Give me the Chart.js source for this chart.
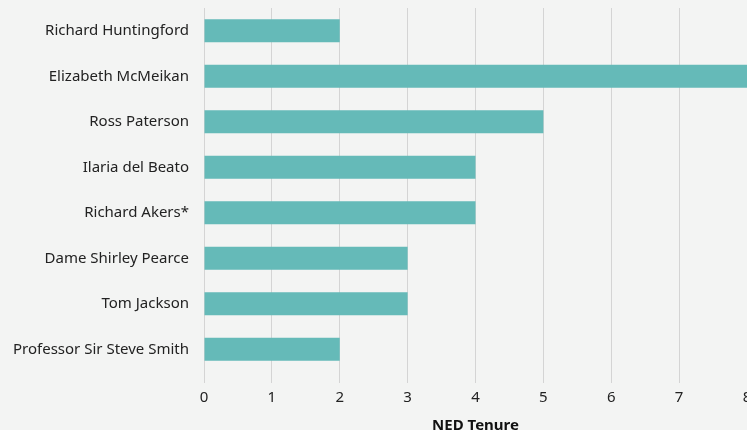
<!DOCTYPE html>
<html>
<head>
<meta charset="utf-8">
<script src="https://cdn.jsdelivr.net/npm/chart.js@4/dist/chart.umd.min.js"></script>
<style>
  html, body { margin: 0; padding: 0; background: #f3f4f3; overflow: hidden; }
  #wrap { width: 770px; height: 435px; }
</style>
</head>
<body>
<div id="wrap"><canvas id="tenureChart"></canvas></div>
<script>
// Directors and their NED tenure in years
const directors = [
  'Richard Huntingford',
  'Elizabeth McMeikan',
  'Ross Paterson',
  'Ilaria del Beato',
  'Richard Akers*',
  'Dame Shirley Pearce',
  'Tom Jackson',
  'Professor Sir Steve Smith'
]
const tenure = [2, 8, 5, 4, 4, 3, 3, 2]
const tenureTicks = [0, 1, 2, 3, 4, 5, 6, 7, 8]

const FONT = "'Noto Sans', sans-serif"

var ctx = document.getElementById('tenureChart').getContext('2d')
var tenureChart = new Chart(ctx, {
  type: 'bar',
  data: {
    labels: directors,
    datasets: [{
      data: tenure,
      backgroundColor: '#65bab8',
      borderWidth: 0,
      categoryPercentage: 1,
      barPercentage: 0.51
    }]
  },
  options: {
    indexAxis: 'y',
    responsive: true,
    maintainAspectRatio: false,
    animation: false,
    layout: {
      padding: { top: 8, right: 23, bottom: 0, left: 0 }
    },
    plugins: {
      legend: { display: false },
      tooltip: { enabled: false }
    },
    scales: {
      x: {
        min: 0,
        max: 8,
        afterBuildTicks: function (scale) {
          scale.ticks = tenureTicks.map(v => ({ value: v }))
        },
        grid: {
          color: '#d4d4d4',
          lineWidth: 1,
          drawTicks: true,
          tickLength: 11,
          tickColor: '#d4d4d4'
        },
        border: { display: false },
        ticks: {
          color: '#222',
          padding: 6,
          font: { family: FONT, size: 15 }
        },
        title: {
          display: true,
          text: 'NED Tenure',
          color: '#111',
          padding: { top: 4, bottom: 0 },
          font: { family: FONT, size: 15, weight: 'bold' }
        }
      },
      y: {
        grid: { display: false, drawTicks: false },
        border: { display: false },
        ticks: {
          color: '#222',
          padding: 15,
          font: { family: FONT, size: 15 }
        },
        afterFit: function (scale) {
          // fixed label column, and no extra top/bottom padding from the labels
          scale.width = 204
          scale.paddingTop = 0
          scale.paddingBottom = 0
        }
      }
    }
  }
})
tenureChart.update()
</script>
</body>
</html>
